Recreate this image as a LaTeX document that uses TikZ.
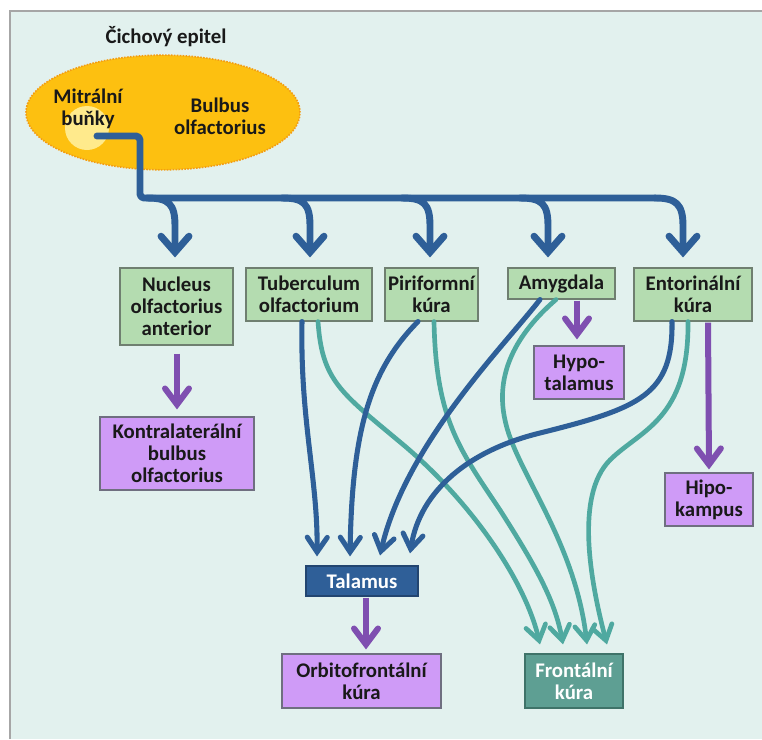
\documentclass[tikz,border=0pt]{standalone}
\usepackage{fontspec}
\setmainfont{Carlito}
\usetikzlibrary{arrows.meta,calc,shapes.geometric}
\definecolor{panelc}{HTML}{E2F1EE}
\definecolor{panelb}{HTML}{A6A6A6}
\definecolor{bulbc}{HTML}{FDC010}
\definecolor{bulbb}{HTML}{F39C12}
\definecolor{mitc}{HTML}{FFEA8C}
\definecolor{treec}{HTML}{2E5F98}
\definecolor{tealc}{HTML}{4FA9A0}
\definecolor{purpc}{HTML}{7F4FB0}
\definecolor{greenf}{HTML}{B4DCB0}
\definecolor{greenb}{HTML}{6F7F70}
\definecolor{purpf}{HTML}{CF9BF7}
\definecolor{purpb}{HTML}{6F6F80}
\definecolor{talf}{HTML}{2F5F98}
\definecolor{talb}{HTML}{224570}
\definecolor{frf}{HTML}{5E9F93}
\definecolor{frb}{HTML}{3F7369}
\begin{document}
\begin{tikzpicture}[x=0.75pt,y=-0.75pt,
  txt/.style={font=\fontsize{15.6}{16.5}\selectfont\bfseries, text=black!90, align=center},
  box/.style={txt, draw, line width=0.8pt, inner sep=0pt},
  gbox/.style={box, fill=greenf, draw=greenb},
  pbox/.style={box, fill=purpf, draw=purpb},
  tree/.style={draw=treec, line width=5.2pt, line cap=round, line join=round},
  treearr/.style={tree, -{Straight Barb[length=12pt,width=21pt,line cap=round]}},
  bline/.style={draw=treec, line width=3.8pt, line cap=round, -{Straight Barb[length=11pt,width=15pt,line cap=round]}},
  tline/.style={draw=tealc, line width=3.5pt, line cap=round, -{Straight Barb[length=11pt,width=15pt,line cap=round]}},
  parr/.style={draw=purpc, line width=4.5pt, -{Straight Barb[length=12pt,width=18pt,line cap=round]}}
]
\useasboundingbox (0,0) rectangle (762,739);
\fill[white] (0,0) rectangle (762,739);
\fill[panelc] (10,11) rectangle (762,739);
\draw[panelb, line width=1.5pt] (10,739) -- (10,11) -- (762,11);

% bulbus
\node[txt] (epi) at (166,37) {Čichový epitel};
\node[ellipse, fill=bulbc, draw=bulbb, densely dotted, line width=1.2pt,
      minimum width=205.5pt, minimum height=86pt] (bulb) at (163,112.5) {};
\node[circle, fill=mitc, minimum size=33pt, inner sep=0pt] (mc) at (87,128) {};
\node[txt] (mit) at (88,109) {Mitrální\\buňky};
\node[txt] (bo) at (220,116) {Bulbus\\olfactorius};

% boxes
\node[gbox, minimum width=84.75pt, minimum height=57.75pt] (nuc) at (176.5,306.5) {Nucleus\\olfactorius\\anterior};
\node[gbox, minimum width=94.5pt, minimum height=39.75pt] (tub) at (309,294.5) {Tuberculum\\olfactorium};
\node[gbox, minimum width=69.75pt, minimum height=39.75pt] (pir) at (431.5,294.5) {Piriformní\\kúra};
\node[gbox, minimum width=80.25pt, minimum height=23.25pt] (amy) at (561.5,283.5) {Amygdala};
\node[gbox, minimum width=88.5pt, minimum height=39.75pt] (ent) at (693,294.5) {Entorinální\\kúra};
\node[pbox, minimum width=115.5pt, minimum height=54.75pt] (kon) at (177,453.5) {Kontralaterální\\bulbus\\olfactorius};
\node[pbox, minimum width=67.5pt, minimum height=39.75pt] (hyp) at (579,372.5) {Hypo-\\talamus};
\node[pbox, minimum width=66pt, minimum height=39.75pt] (hip) at (709,499.5) {Hipo-\\kampus};
\node[pbox, minimum width=119.25pt, minimum height=40.5pt] (orb) at (361.5,681) {Orbitofrontální\\kúra};
\node[box, fill=talf, draw=talb, text=white, minimum width=84pt, minimum height=22.5pt] (tal) at (362,581) {Talamus};
\node[box, fill=frf, draw=frb, text=white, minimum width=73.5pt, minimum height=40.5pt] (fro) at (574,681) {Frontální\\kúra};

% tree from mitral cells
\coordinate (ms) at (97,136);
\coordinate (j) at (140,198);
\draw[tree, rounded corners=3pt] (ms) -- (140,136) -- (j) -- (655,198);
\draw[treearr] (655,198) .. controls (676,198) and (683,204) .. (683,226) -- ($(ent.north)+(-10,-10)$);
\foreach \n/\dx in {nuc/-1.5, tub/1, pir/-1.5, amy/-13.5}{
  \draw[treearr] ($(j -| \n.north)+(\dx-28,0)$) .. controls ($(j -| \n.north)+(\dx-6,0)$) and ($(j -| \n.north)+(\dx,6)$) .. ($(j -| \n.north)+(\dx,28)$) -- ($(\n.north)+(\dx,-10)$);
}

% purple arrows
\draw[parr] ($(nuc.south)+(0.5,8)$) -- ($(kon.north)+(0,-7)$);
\draw[parr] ($(amy.south)+(15.5,1)$) -- ($(hyp.north)+(-2,-6)$);
\draw[parr] ($(ent.south)+(15,1)$) -- ($(hip.north)+(0,-3)$);
\draw[parr] ($(tal.south)+(4,1)$) -- ($(orb.north)+(4.5,-4)$);

% teal curves to frontal cortex
\draw[tline] ($(tub.south)+(9,0)$) .. controls (322,380) and (340,392) .. (400,442)
   .. controls (470,500) and (525,580) .. ($(fro.north)+(-34,-9)$);
\draw[tline] ($(pir.south)+(2.5,0)$) .. controls (436,420) and (460,450) .. (500,510)
   .. controls (535,565) and (555,600) .. ($(fro.north)+(-11,-9)$);
\draw[tline] ($(amy.south)+(-5.5,0)$) .. controls (515,335) and (495,375) .. (505,420)
   .. controls (515,470) and (575,540) .. ($(fro.north)+(13,-9)$);
\draw[tline] ($(ent.south)+(-5,0)$) .. controls (689,420) and (640,430) .. (610,460)
   .. controls (575,495) and (590,580) .. ($(fro.north)+(33,-9)$);

% blue curves to thalamus
\draw[bline] ($(tub.south)+(-7,0)$) .. controls (300,420) and (318,480) .. ($(tal.north)+(-45,-9)$);
\draw[bline] ($(pir.south)+(-13.5,0)$) .. controls (370,370) and (352,430) .. ($(tal.north)+(-12,-9)$);
\draw[bline] ($(amy.south)+(-21.5,0)$) .. controls (505,345) and (405,445) .. ($(tal.north)+(18,-10)$);
\draw[bline] ($(ent.south)+(-21,0)$) .. controls (673,395) and (640,408) .. (540,433)
   .. controls (470,450) and (420,490) .. ($(tal.north)+(48,-12)$);
\end{tikzpicture}
\end{document}
